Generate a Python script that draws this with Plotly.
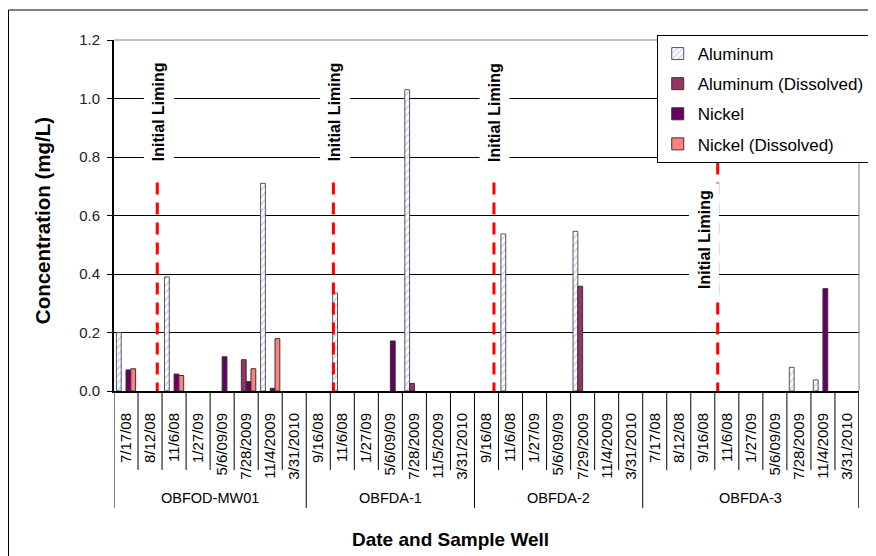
import plotly.graph_objects as go

# ---------------- data ----------------
dates = ["7/17/08", "8/12/08", "11/6/08", "1/27/09", "5/6/09/09", "7/28/2009", "11/4/2009", "3/31/2010",
         "9/16/08", "11/6/08", "1/27/09", "5/6/09/09", "7/28/2009", "11/5/2009", "3/31/2010",
         "9/16/08", "11/6/08", "1/27/09", "5/6/09/09", "7/29/2009", "11/4/2009", "3/31/2010",
         "7/17/08", "8/12/08", "9/16/08", "11/6/08", "1/27/09", "5/6/09/09", "7/28/2009", "11/4/2009", "3/31/2010"]
wells = ["OBFOD-MW01", "OBFDA-1", "OBFDA-2", "OBFDA-3"]
well_sizes = [8, 7, 7, 9]

N = None
aluminum = [0.20, N, 0.39, N, N, N, 0.71, N,
            N, 0.335, N, N, 1.03, N, N,
            N, 0.537, N, N, 0.546, N, N,
            N, N, N, N, N, N, 0.081, 0.038, N]
aluminum_diss = [N, N, N, N, N, 0.107, N, N,
                 N, N, N, N, 0.026, N, N,
                 N, N, N, N, 0.358, N, N,
                 N, N, N, N, N, N, N, N, N]
nickel = [0.072, N, 0.058, N, 0.117, 0.032, 0.009, N,
          N, N, N, 0.171, N, N, N,
          N, N, N, N, N, N, N,
          N, N, N, N, N, N, N, 0.35, N]
nickel_diss = [0.076, N, 0.053, N, N, 0.076, 0.179, N,
               N, N, N, N, N, N, N,
               N, N, N, N, N, N, N,
               N, N, N, N, N, N, N, N, N]

liming_x = [1.3, 8.63, 15.31, 24.62]      # category-index position of "Initial Liming" events
liming_top = [0.72, 0.72, 0.72, 0.78]
liming_label_y = [0.954, 0.954, 0.954, 0.519]

y_ticks = [0.0, 0.2, 0.4, 0.6, 0.8, 1.0, 1.2]

# ---------------- figure ----------------
FONT = "Liberation Sans, Arial, sans-serif"
xs = list(range(len(dates)))

fig = go.Figure()
fig.add_trace(go.Bar(
    x=xs, y=aluminum, name="Aluminum", legendgroup="a",
    marker=dict(color="white", line=dict(color="#555555", width=1),
                pattern=dict(shape="/", fgcolor="#9999ff", bgcolor="white", size=5, solidity=0.3)),
))
fig.add_trace(go.Bar(
    x=xs, y=aluminum_diss, name="Aluminum (Dissolved)", legendgroup="b",
    marker=dict(color="#993366", line=dict(color="#333333", width=1)),
))
fig.add_trace(go.Bar(
    x=xs, y=nickel, name="Nickel", legendgroup="c",
    marker=dict(color="#660066", line=dict(color="#333333", width=1)),
))
fig.add_trace(go.Bar(
    x=xs, y=nickel_diss, name="Nickel (Dissolved)", legendgroup="d",
    marker=dict(color="#ff8080", line=dict(color="#333333", width=1)),
))

shapes = []
annotations = []

# red dashed liming lines and labels
for lx, top, ly, xs_shift in zip(liming_x, liming_top, liming_label_y, [2, 2, 1, -14]):
    shapes.append(dict(type="line", xref="x", yref="y", x0=lx, x1=lx, y0=-0.012, y1=top,
                       line=dict(color="#ff0000", width=3, dash="12px,8px"), layer="above"))
    annotations.append(dict(x=lx, y=ly, xref="x", yref="y", xshift=xs_shift,
                            text="<b>Initial Liming</b>", textangle=-90, showarrow=False,
                            font=dict(family=FONT, size=16, color="black"),
                            bgcolor="white", borderpad=6))

# category boundary ticks and group dividers below the axis
group_edges = [-0.5]
for s in well_sizes:
    group_edges.append(group_edges[-1] + s)
for k in range(len(dates) + 1):
    b = k - 0.5
    if b >= len(dates) - 0.5:
        b = len(dates) - 0.5 - 0.01
    is_group = (k - 0.5) in group_edges
    shapes.append(dict(type="line", xref="x", yref="paper", x0=b, x1=b, y0=0,
                       y1=-0.333 if is_group else -0.225,
                       line=dict(color="black", width=1)))

# group labels
for i, w in enumerate(wells):
    c = (group_edges[i] + group_edges[i + 1]) / 2
    annotations.append(dict(x=c, y=-0.305, xref="x", yref="paper", text=w, showarrow=False,
                            font=dict(family=FONT, size=14.5, color="black"), yanchor="middle"))

# plot area border (top/right, gray)
shapes.append(dict(type="line", xref="paper", yref="paper", x0=0, x1=1, y0=1, y1=1,
                   line=dict(color="#808080", width=1), layer="above"))
shapes.append(dict(type="line", xref="paper", yref="paper", x0=1, x1=1, y0=0, y1=1,
                   line=dict(color="#808080", width=1), layer="above"))
# chart border
shapes.append(dict(type="rect", xref="paper", yref="paper", x0=-0.1416, x1=1.03, y0=-0.49, y1=1.0855,
                   line=dict(color="black", width=1), fillcolor="rgba(0,0,0,0)"))

# axis titles
annotations.append(dict(x=-0.0966, y=0.484, xref="paper", yref="paper", text="<b>Concentration (mg/L)</b>",
                        textangle=-90, showarrow=False, xanchor="center", yanchor="middle",
                        font=dict(family=FONT, size=20.5, color="black")))
annotations.append(dict(x=0.4517, y=-0.4245, xref="paper", yref="paper", text="<b>Date and Sample Well</b>",
                        showarrow=False, xanchor="center", yanchor="middle",
                        font=dict(family=FONT, size=19, color="black")))

fig.update_layout(
    width=868, height=548,
    margin=dict(l=106, r=17, t=32, b=165, autoexpand=False),
    paper_bgcolor="white", plot_bgcolor="white",
    barmode="group", bargap=0.2, bargroupgap=0,
    font=dict(family=FONT, color="black"),
    showlegend=True,
    legend=dict(x=0.7285, y=1.0142, xanchor="left", yanchor="top",
                bgcolor="white", bordercolor="black", borderwidth=1,
                font=dict(family=FONT, size=17, color="black"),
                traceorder="grouped", tracegroupgap=5),
    shapes=shapes, annotations=annotations,
    xaxis=dict(range=[-0.5, len(dates) - 0.5], tickmode="array", tickvals=xs, ticktext=dates,
               tickangle=-90, ticks="", showgrid=False, zeroline=False,
               showline=True, linecolor="black", linewidth=2,
               tickfont=dict(family=FONT, size=15, color="black"), ticklabelstandoff=14),
    yaxis=dict(range=[0, 1.2], tickmode="array", tickvals=y_ticks,
               ticktext=[f"{v:.1f}" for v in y_ticks],
               ticks="outside", ticklen=5, tickcolor="black",
               showgrid=True, gridcolor="black", gridwidth=1, zeroline=False,
               showline=True, linecolor="black", linewidth=2,
               tickfont=dict(family=FONT, size=15, color="#222222"), ticklabelstandoff=4),
)

fig.write_html("out.html")
